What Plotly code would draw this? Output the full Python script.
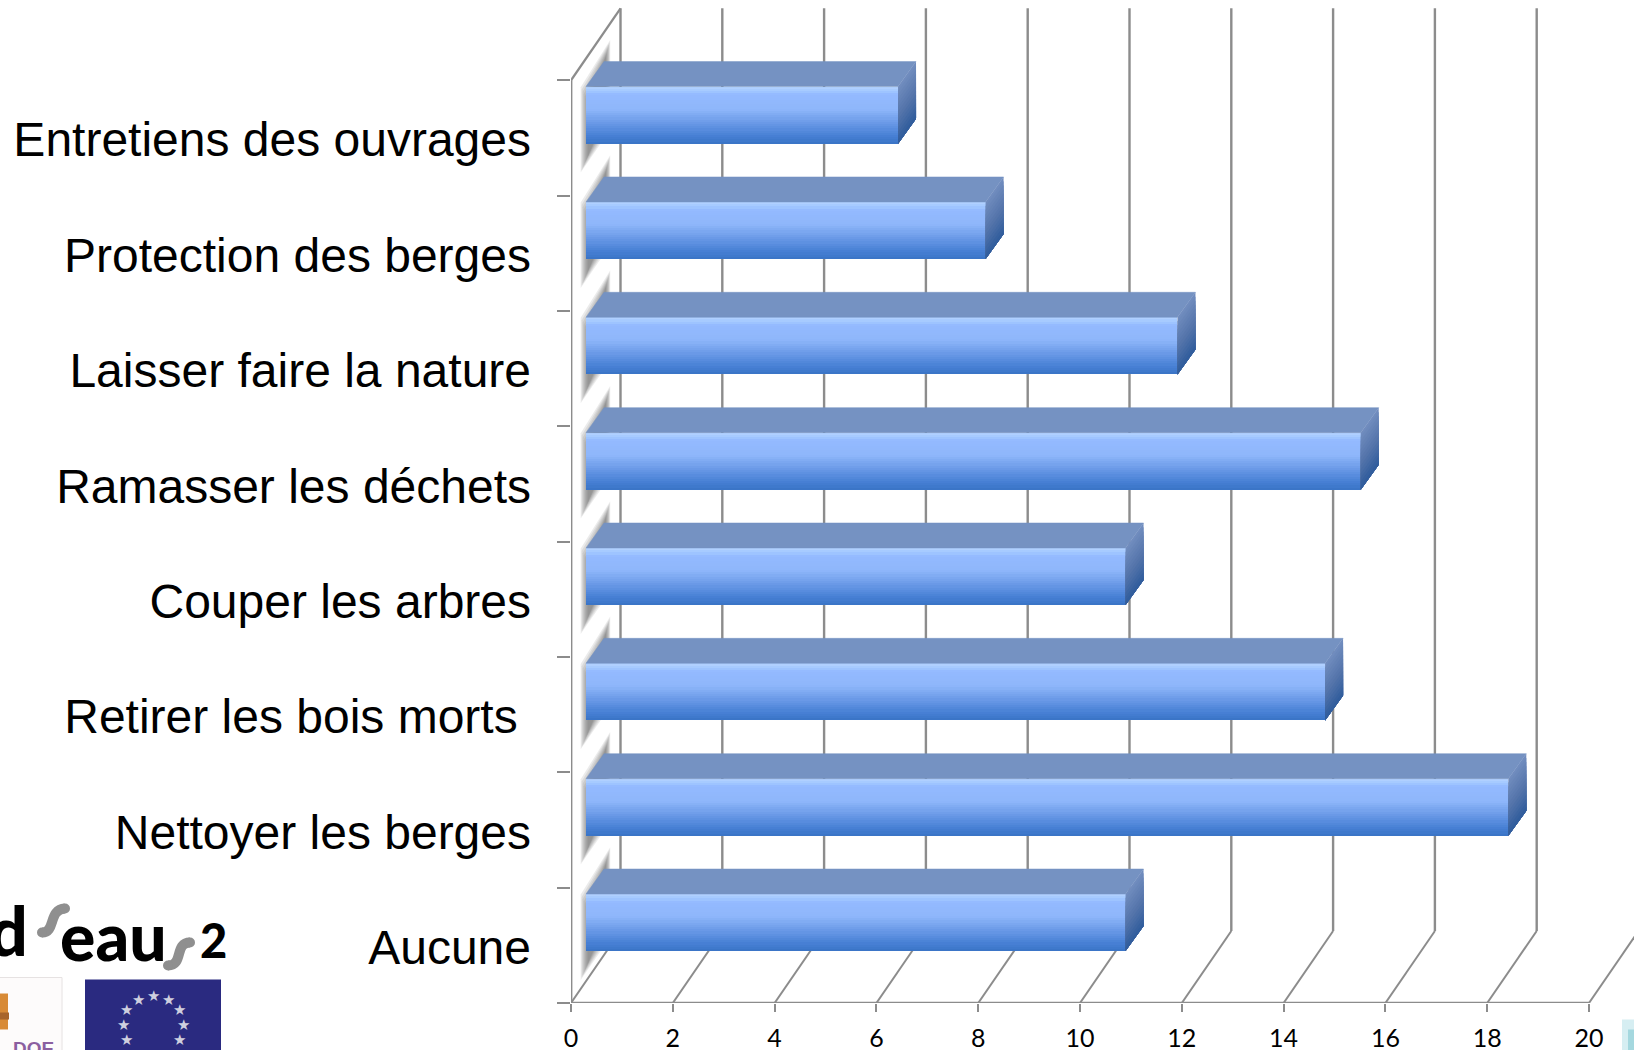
import plotly.graph_objects as go

# ---- data (bottom to top) ----
categories = ["Aucune", "Nettoyer les berges", "Retirer les bois morts\u00a0", "Couper les arbres",
              "Ramasser les déchets", "Laisser faire la nature", "Protection des berges",
              "Entretiens des ouvrages"]
values = [10.6, 18.12, 14.52, 10.6, 15.22, 11.62, 7.85, 6.13]
x_ticks = [0, 2, 4, 6, 8, 10, 12, 14, 16, 18, 20]

# ---- style / geometry constants ----
W, H = 1634, 1050
X0_PX, X20_PX, Y0_PX, BAND_PX = 571, 1589.0, 1003.5, 115.4
UX = (X20_PX - X0_PX) / 20
GRID = "#8c8c8c"
WALL_DX, WALL_DY = 49.5 / UX, 72 / BAND_PX
BASE = 15 / UX
FRONT_BOT, FRONT_TOP = 0.45, 0.945
DX, DY = 18 / UX, 25 / BAND_PX
TOP_FACE = "#7592c2"


def lerp(stops, t):
    for (t0, c0), (t1, c1) in zip(stops, stops[1:]):
        if t <= t1:
            f = (t - t0) / (t1 - t0) if t1 > t0 else 0
            return "rgb(%d,%d,%d)" % tuple(round(a + (b - a) * f) for a, b in zip(c0, c1))
    return "rgb(%d,%d,%d)" % stops[-1][1]


FRONT_STOPS = [(0, (176, 208, 255)), (0.07, (160, 198, 255)), (0.12, (148, 186, 255)), (0.38, (142, 182, 250)),
               (0.6, (108, 155, 232)), (0.85, (70, 127, 212)), (0.96, (60, 118, 200)), (1, (44, 96, 164))]
SIDE_STOPS = [(0, (112, 140, 190)), (0.5, (84, 116, 170)), (1, (44, 90, 155))]


def px(x):
    return (x - X0_PX) / (W - X0_PX)


def py(y):
    return (Y0_PX - y) / Y0_PX


shapes = []


def line(x0, y0, x1, y1, width=2.4):
    shapes.append(dict(type="line", xref="x", yref="y", x0=x0, y0=y0, x1=x1, y1=y1, layer="below",
                       line=dict(color=GRID, width=width)))


# back wall and floor lines
for t in x_ticks:
    line(t, 0, t + WALL_DX, WALL_DY, 2)
    if t < 20:
        line(t + WALL_DX, WALL_DY, t + WALL_DX, 8 + WALL_DY)
line(0, 8, WALL_DX, 8 + WALL_DY, 2.2)

# soft shadows on the side wall
for i in range(len(categories)):
    for k in range(8):
        ins_x = k * 0.02
        ins_y = k * 0.02
        xa, xb = 0.19 + ins_x, 0.77 - ins_x * 0.6
        pts = [(xa, i + 0.94 - ins_y), (xb, i + 1.35 - ins_y), (xb, i + 0.57 + ins_y), (xa, i + 0.2 + ins_y)]
        path = "M " + " L ".join(f"{a:.4f},{b:.4f}" for a, b in pts) + " Z"
        shapes.append(dict(type="path", xref="x", yref="y", path=path, layer="below",
                           fillcolor="rgba(100,100,100,0.13)", line=dict(width=0)))

fig = go.Figure()

# front faces: stacked strips of real bars for the vertical gradient
N = 26
for s in range(N):
    t = s / N
    top = FRONT_TOP - t * (FRONT_TOP - FRONT_BOT)
    fig.add_trace(go.Bar(orientation="h", x=values, base=BASE,
                         y=[i + (top + FRONT_BOT) / 2 for i in range(len(values))],
                         width=top - FRONT_BOT,
                         marker=dict(color=lerp(FRONT_STOPS, t), line=dict(width=0)),
                         hoverinfo="skip", showlegend=False))

# top faces
xs, ys = [], []
for i, v in enumerate(values):
    t = i + FRONT_TOP
    xs += [BASE, BASE + v, BASE + v + DX, BASE + DX, BASE, None]
    ys += [t, t, t + DY, t + DY, t, None]
fig.add_trace(go.Scatter(x=xs, y=ys, mode="lines", fill="toself", fillcolor=TOP_FACE,
                         line=dict(width=0.5, color=TOP_FACE), hoverinfo="skip", showlegend=False))

# side faces
M = 14
H_FACE = FRONT_TOP - FRONT_BOT
for s in range(M):
    frac = s / M
    xs, ys = [], []
    for i, v in enumerate(values):
        r = BASE + v
        t = i + FRONT_TOP - frac * H_FACE
        b = i + FRONT_BOT
        xs += [r, r + DX, r + DX, r, r, None]
        ys += [t, t + DY, b + DY, b, t, None]
    c = lerp(SIDE_STOPS, frac)
    fig.add_trace(go.Scatter(x=xs, y=ys, mode="lines", fill="toself", fillcolor=c,
                             line=dict(width=0), hoverinfo="skip", showlegend=False))

# front axis lines
fig.add_trace(go.Scatter(x=[0, 20], y=[0, 0], mode="lines", line=dict(color=GRID, width=2.4), cliponaxis=False,
                         hoverinfo="skip", showlegend=False))
fig.add_trace(go.Scatter(x=[0, 0], y=[0, 8], mode="lines", line=dict(color=GRID, width=2.8), cliponaxis=False,
                         hoverinfo="skip", showlegend=False))

# ---- logos (decorative, page coordinates) ----
annots = []


def paper_rect(x0, y0, x1, y1, fill, lw=0, lc="rgba(0,0,0,0)"):
    shapes.append(dict(type="rect", xref="paper", yref="paper", x0=px(x0), x1=px(x1), y0=py(y0), y1=py(y1),
                       fillcolor=fill, line=dict(width=lw, color=lc)))


def paper_circle(cx, cy, r, fill):
    shapes.append(dict(type="circle", xref="paper", yref="paper", x0=px(cx - r), x1=px(cx + r),
                       y0=py(cy - r), y1=py(cy + r), fillcolor=fill, line=dict(width=0)))


def squiggle(p0, c0, c1, p1):
    path = f"M {px(p0[0])},{py(p0[1])} C {px(c0[0])},{py(c0[1])} {px(c1[0])},{py(c1[1])} {px(p1[0])},{py(p1[1])}"
    shapes.append(dict(type="path", xref="paper", yref="paper", path=path, fillcolor="rgba(0,0,0,0)",
                       line=dict(color="#8f8f8f", width=10)))
    paper_circle(p0[0], p0[1], 5, "#8f8f8f")
    paper_circle(p1[0], p1[1], 5, "#8f8f8f")


def note(text, x, y, size, color="#000000", anchor="center", weight=400, family="Lato"):
    annots.append(dict(text=text, xref="paper", yref="paper", x=px(x), y=py(y),
                       xanchor=anchor, yanchor="middle", showarrow=False,
                       font=dict(family=family, size=size, color=color, weight=weight)))


note("d", 30, 930, 68, anchor="right", weight=900)
note("eau", 58, 936, 66, anchor="left", weight=900)
note("2", 198, 940, 47, anchor="left", weight=900)
squiggle((42, 933), (56, 933), (48, 910), (65, 909))
squiggle((168, 966), (184, 966), (174, 943), (190, 943))

paper_rect(-5, 978, 62, 1056, "#fdfbfb", 1, "#e6e2e2")
paper_rect(-5, 994, 8, 1030, "#d88a36")
paper_rect(-5, 1013, 9, 1020, "#a8642a")
note("DOE", 56, 1049, 19, color="#8b5fa0", anchor="right", family="Liberation Sans", weight=700)
paper_rect(85, 980, 221, 1056, "#2a2a80")
star_xy = [(153, 996), (168, 1000), (179, 1011), (183, 1026), (179, 1041), (127, 1041), (123, 1026), (127, 1011),
           (138, 1000)]
for sx, sy in star_xy:
    note("★", sx, sy, 15, color="#cfcfdf", family="DejaVu Sans")
paper_rect(1622, 1020, 1640, 1056, "#d6eef2")
paper_rect(1628, 1030, 1640, 1056, "#a5d8df")

fig.update_layout(
    width=W, height=H, margin=dict(l=X0_PX, r=0, t=0, b=H - Y0_PX, pad=0, autoexpand=False),
    paper_bgcolor="white", plot_bgcolor="white", barmode="overlay", bargap=0, showlegend=False,
    shapes=shapes, annotations=annots,
    xaxis=dict(range=[0, (W - X0_PX) / UX], tickmode="array", tickvals=x_ticks, ticktext=[str(t) for t in x_ticks],
               showgrid=False, zeroline=False, showline=False, ticks="outside", ticklen=8, tickwidth=2,
               tickcolor=GRID, tickangle=0, tickfont=dict(family="Lato", size=25, color="#000000"),
               ticklabelstandoff=5),
    yaxis=dict(range=[0, Y0_PX / BAND_PX], tickmode="array",
               tickvals=[i + 0.485 for i in range(len(categories))], ticktext=categories,
               showgrid=False, zeroline=False, showline=False, ticks="",
               tickfont=dict(family="Liberation Sans", size=48, color="#000000"), ticklabelstandoff=39,
               minor=dict(tickmode="array", tickvals=list(range(len(categories) + 1)), ticks="outside", ticklen=13,
                          tickwidth=2, tickcolor=GRID, showgrid=False)),
)

fig.write_html("out.html", config=dict(displayModeBar=False),
               post_script="document.body.style.margin='0';document.body.style.overflow='hidden';")
